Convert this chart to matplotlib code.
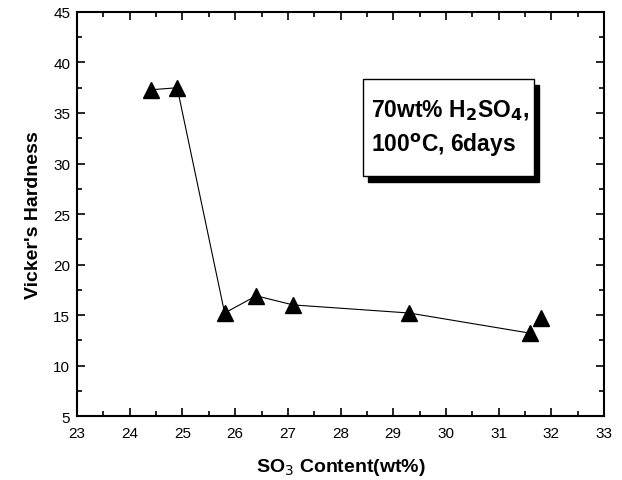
import numpy as np
import matplotlib.pyplot as plt
from matplotlib.patches import Rectangle
from matplotlib.ticker import MultipleLocator

plt.rcParams['font.family'] = ['Liberation Sans', 'DejaVu Sans']

# SO3 content (wt%) and Vickers hardness
so3 = [24.4, 24.9, 25.8, 26.4, 27.1, 29.3, 31.6, 31.8]
hardness = [37.3, 37.5, 15.2, 16.9, 16.0, 15.2, 13.2, 14.7]
n_line = 7  # last point is not joined

fig = plt.figure(figsize=(6.22, 4.81), dpi=100)
ax = fig.add_axes([0.124, 0.133, 0.847, 0.840])

ax.plot(so3[:n_line], hardness[:n_line], color='black', lw=0.8)
ax.plot(so3, hardness, ls='none', marker='^', ms=11, color='black')

ax.set_xlim(23, 33)
ax.set_ylim(5, 45)
ax.xaxis.set_major_locator(MultipleLocator(1))
ax.xaxis.set_minor_locator(MultipleLocator(0.5))
ax.yaxis.set_major_locator(MultipleLocator(5))
ax.yaxis.set_minor_locator(MultipleLocator(2.5))
ax.tick_params(which='both', direction='in', top=True, right=True, width=1.2, labelsize=11)
ax.tick_params(which='major', length=6)
ax.tick_params(which='minor', length=3.5)
ax.tick_params(axis='x', pad=7)
ax.tick_params(axis='y', pad=5)
for s in ax.spines.values():
    s.set_linewidth(1.5)

ax.set_xlabel('SO$_3$ Content(wt%)', fontsize=14, fontweight='bold', labelpad=12)
ax.set_ylabel("Vicker's Hardness", fontsize=14, fontweight='bold', labelpad=8)

# annotation box with drop shadow
ax.add_patch(Rectangle((0.553, 0.579), 0.324, 0.24, transform=ax.transAxes,
                       facecolor='black', edgecolor='black', zorder=3))
ax.add_patch(Rectangle((0.543, 0.594), 0.324, 0.24, transform=ax.transAxes,
                       facecolor='white', edgecolor='black', lw=1, zorder=4))
ax.text(0.557, 0.714, '70wt% H$_\\mathbf{2}$SO$_\\mathbf{4}$,\n100$^\\mathbf{o}$C, 6days',
        transform=ax.transAxes, ha='left', va='center', fontsize=16.5,
        fontweight='bold', linespacing=1.45, zorder=5)

fig.savefig('out.png', dpi=100)
